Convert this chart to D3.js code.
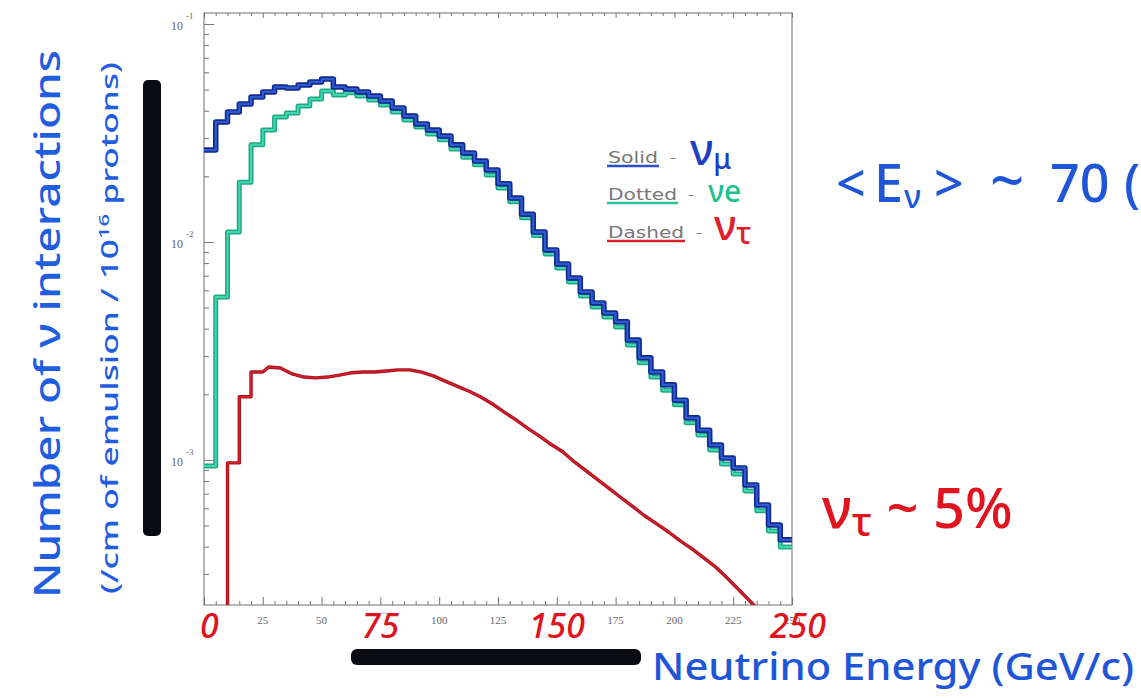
<!DOCTYPE html>
<html>
<head>
<meta charset="utf-8">
<script src="https://cdn.jsdelivr.net/npm/d3@7"></script>
<style>
  body { margin: 0; background: #fff; }
  svg { display: block; }
  .tick-label { font-family: "Liberation Serif", serif; font-size: 11px; fill: #666; }
  .hand { font-family: "Noto Sans", sans-serif; font-weight: 500; }
  .legend-word { font-family: "DejaVu Sans", sans-serif; font-size: 15px; fill: #777; }
</style>
</head>
<body>
<div id="wrapper"></div>
<script>
// histogram bins (lower edge, GeV), 5 GeV wide
const energyBins = [0, 5, 10, 15, 20, 25, 30, 35, 40, 45, 50, 55, 60, 65, 70, 75, 80, 85, 90, 95,
  100, 105, 110, 115, 120, 125, 130, 135, 140, 145, 150, 155, 160, 165, 170, 175, 180, 185, 190, 195,
  200, 205, 210, 215, 220, 225, 230, 235, 240, 245];
const binWidth = 5;
const energyMax = 250;

// interactions / cm of emulsion / 1e16 protons
const numuRate = [0.0264, 0.0355, 0.0395, 0.0430, 0.0462, 0.0488, 0.0514, 0.0509, 0.0525, 0.0542,
  0.0559, 0.0514, 0.0503, 0.0488, 0.0467, 0.0443, 0.0412, 0.0378, 0.0348, 0.0326,
  0.0306, 0.0279, 0.0256, 0.0235, 0.0214, 0.0185, 0.0159, 0.0134, 0.0111, 0.00919,
  0.00793, 0.00684, 0.00590, 0.00525, 0.00472, 0.00430, 0.00355, 0.00294, 0.00253, 0.00221,
  0.00188, 0.00156, 0.00137, 0.00117, 0.00102, 0.000919, 0.000768, 0.000622, 0.000503, 0.000430];

const nueRate = [0.000939, 0.00559, 0.0111, 0.0188, 0.0279, 0.0326, 0.0374, 0.0391, 0.0421, 0.0453,
  0.0493, 0.0472, 0.0483, 0.0467, 0.0448, 0.0425, 0.0395, 0.0363, 0.0337, 0.0313,
  0.0294, 0.0267, 0.0245, 0.0226, 0.0203, 0.0177, 0.0153, 0.0129, 0.0107, 0.00881,
  0.00760, 0.00655, 0.00565, 0.00503, 0.00453, 0.00407, 0.00337, 0.00279, 0.00240, 0.00209,
  0.00179, 0.00148, 0.00130, 0.00111, 0.000959, 0.000863, 0.000721, 0.000584, 0.000472, 0.000399];

const nutauRate = [null, null, 0.000969, 0.00195, 0.00253, 0.00267, 0.00264, 0.00248, 0.00240, 0.00238,
  0.00240, 0.00245, 0.00251, 0.00253, 0.00253, 0.00256, 0.00259, 0.00259, 0.00253, 0.00243,
  0.00230, 0.00218, 0.00207, 0.00195, 0.00181, 0.00166, 0.00153, 0.00140, 0.00129, 0.00118,
  0.00109, 0.000979, 0.000890, 0.000810, 0.000736, 0.000669, 0.000609, 0.000553, 0.000509, 0.000467,
  0.000425, 0.000391, 0.000355, 0.000323, 0.000287, 0.000253, 0.000223, 0.000195, 0.000170, 0.000149];

const yDomain = [2.16e-4, 0.1123];
const yDecades = [-1, -2, -3];
const xMajorTicks = [0, 25, 50, 75, 100, 125, 150, 175, 200, 225, 250];
const xPrintedLabels = [25, 50, 100, 125, 175, 200, 225, 250];
const xHandLabels = ["0", "75", "150", "250"];
const xHandValues = [0, 75, 150, 250];

const width = 1141;
const height = 698;
let dimensions = {
  margin: { top: 13, left: 204 },
  boundedWidth: 588,
  boundedHeight: 592,
};

const svg = d3.select("#wrapper")
  .append("svg")
  .attr("width", width)
  .attr("height", height);

const bounds = svg.append("g")
  .attr("transform", `translate(${dimensions.margin.left},${dimensions.margin.top})`);

const xScale = d3.scaleLinear()
  .domain([0, energyMax])
  .range([0, dimensions.boundedWidth]);

const yScale = d3.scaleLog()
  .domain(yDomain)
  .range([dimensions.boundedHeight, 0]);

// frame
bounds.append("rect")
  .attr("width", dimensions.boundedWidth)
  .attr("height", dimensions.boundedHeight)
  .attr("fill", "none")
  .attr("stroke", "#888")
  .attr("stroke-width", 1.2);

// y axis ticks (inward)
const minorY = [];
[-4, -3, -2].forEach(e => {
  for (let m = 2; m <= 9; m++) {
    const v = m * Math.pow(10, e);
    if (v >= yDomain[0] && v <= yDomain[1]) minorY.push(v);
  }
});
const majorY = yDecades.map(e => Math.pow(10, e));

function tickStyle(g) {
  g.select(".domain").remove();
  g.selectAll(".tick line").attr("stroke", "#777").attr("stroke-width", 1);
  g.selectAll(".tick text").remove();
}

bounds.append("g")
  .call(d3.axisRight(yScale).tickValues(majorY).tickSize(10))
  .call(tickStyle);
bounds.append("g")
  .call(d3.axisRight(yScale).tickValues(minorY).tickSize(5))
  .call(tickStyle);

const yLabels = bounds.append("g");
yDecades.forEach(e => {
  const t = yLabels.append("text")
    .attr("class", "tick-label")
    .attr("x", -33)
    .attr("y", yScale(Math.pow(10, e)) + 6)
    .style("font-size", "12px");
  t.append("tspan").text("10");
  t.append("tspan").attr("dy", -11).attr("dx", 3).style("font-size", "9px").text(String(e));
});

// x axis ticks, bottom (inward) and top
const minorX = energyBins.filter(d => d % 25 !== 0);
bounds.append("g")
  .attr("transform", `translate(0,${dimensions.boundedHeight})`)
  .call(d3.axisTop(xScale).tickValues(xMajorTicks).tickSize(8))
  .call(tickStyle);
bounds.append("g")
  .attr("transform", `translate(0,${dimensions.boundedHeight})`)
  .call(d3.axisTop(xScale).tickValues(minorX).tickSize(4))
  .call(tickStyle);
bounds.append("g")
  .call(d3.axisBottom(xScale).tickValues(xMajorTicks).tickSize(5))
  .call(tickStyle);
bounds.append("g")
  .call(d3.axisBottom(xScale).tickValues(minorX).tickSize(3))
  .call(tickStyle);

bounds.append("g").selectAll("text")
  .data(xPrintedLabels)
  .join("text")
  .attr("class", "tick-label")
  .attr("x", d => xScale(d))
  .attr("y", dimensions.boundedHeight + 19)
  .attr("text-anchor", "middle")
  .text(d => d);

// histograms
bounds.append("clipPath")
  .attr("id", "plot-clip")
  .append("rect")
  .attr("width", dimensions.boundedWidth)
  .attr("height", dimensions.boundedHeight);

const plot = bounds.append("g").attr("clip-path", "url(#plot-clip)");

const histLine = d3.line()
  .x(d => xScale(d[0]))
  .y(d => yScale(d[1]))
  .curve(d3.curveLinear);

// bins below smoothFrom are drawn as steps, the rest through bin centres
function histPoints(values, smoothFrom) {
  const pts = [];
  let first = true;
  values.forEach((v, i) => {
    if (v == null) return;
    const e = energyBins[i];
    if (first) {
      if (i > 0) pts.push([e, yDomain[0] / 2]);
      first = false;
    }
    if (e < smoothFrom) {
      pts.push([e, v], [e + binWidth, v]);
    } else {
      pts.push([e + binWidth / 2, v]);
    }
  });
  const last = values[values.length - 1];
  pts.push([energyMax, last]);
  return pts;
}

const series = [
  { values: nutauRate, smoothFrom: 25, outer: "#a8101c", inner: "#d8202e", w: 3.4 },
  { values: nueRate, smoothFrom: Infinity, outer: "#1ea884", inner: "#3fd6b0", w: 5 },
  { values: numuRate, smoothFrom: Infinity, outer: "#13288f", inner: "#2c5bd0", w: 5.5 },
];

series.forEach(s => {
  const d = histLine(histPoints(s.values, s.smoothFrom));
  plot.append("path")
    .attr("d", d)
    .attr("fill", "none")
    .attr("stroke", s.outer)
    .attr("stroke-width", s.w)
    .attr("stroke-linejoin", "round");
  plot.append("path")
    .attr("d", d)
    .attr("fill", "none")
    .attr("stroke", s.inner)
    .attr("stroke-width", s.w * 0.4)
    .attr("stroke-linejoin", "round");
});

// legend inside the plot
const legend = [
  { word: "Solid", color: "#2a4fc8", y: 163, len: 50, dashX: 670, nu: "ν", sub: "μ", nuX: 690, nuSize: 44, subSize: 28, nuColor: "#1f3fc8" },
  { word: "Dotted", color: "#2cc49a", y: 200, len: 69, dashX: 688, nu: "ν", sub: "e", nuX: 708, nuSize: 30, subSize: 30, nuColor: "#22c090" },
  { word: "Dashed", color: "#d81e2a", y: 238, len: 76, dashX: 696, nu: "ν", sub: "τ", nuX: 714, nuSize: 42, subSize: 30, nuColor: "#e0202c" },
];
legend.forEach(l => {
  svg.append("text")
    .attr("class", "legend-word")
    .attr("x", 608)
    .attr("y", l.y)
    .attr("textLength", l.len)
    .attr("lengthAdjust", "spacingAndGlyphs")
    .text(l.word);
  svg.append("line")
    .attr("x1", 607).attr("x2", 608 + l.len + 1)
    .attr("y1", l.y + 3).attr("y2", l.y + 3)
    .attr("stroke", l.color)
    .attr("stroke-width", 2.5);
  svg.append("text")
    .attr("class", "legend-word")
    .attr("x", l.dashX)
    .attr("y", l.y - 1)
    .style("font-size", "12px")
    .text("–");
  const t = svg.append("text")
    .attr("class", "hand")
    .attr("x", l.nuX)
    .attr("y", l.y + 2)
    .attr("fill", l.nuColor)
    .style("font-size", l.nuSize + "px");
  t.append("tspan").text(l.nu);
  t.append("tspan").attr("dy", l.sub === "e" ? 0 : 4).style("font-size", l.subSize + "px").text(l.sub);
});

// hand-written annotations
const yTitle1 = svg.append("text")
  .attr("class", "hand")
  .attr("transform", "translate(60,598) rotate(-90)")
  .attr("fill", "#1f5ee0")
  .attr("textLength", 548)
  .attr("lengthAdjust", "spacingAndGlyphs")
  .style("font-size", "36px");
yTitle1.text("Number of ν interactions");

const yTitle2 = svg.append("text")
  .attr("class", "hand")
  .attr("transform", "translate(118,594) rotate(-90)")
  .attr("fill", "#1f5ee0")
  .attr("textLength", 532)
  .attr("lengthAdjust", "spacingAndGlyphs")
  .style("font-size", "24px");
yTitle2.append("tspan").text("(/cm of emulsion / 10");
yTitle2.append("tspan").attr("dy", -9).style("font-size", "15px").text("16");
yTitle2.append("tspan").attr("dy", 9).text(" protons)");

// marker bars
svg.append("rect")
  .attr("x", 143).attr("y", 80)
  .attr("width", 18).attr("height", 456)
  .attr("rx", 5)
  .attr("fill", "#0b0b12");
svg.append("rect")
  .attr("x", 351).attr("y", 649)
  .attr("width", 290).attr("height", 16)
  .attr("rx", 6)
  .attr("fill", "#0b0b12");

// red hand-written axis numbers
svg.append("g").selectAll("text")
  .data(xHandValues)
  .join("text")
  .attr("class", "hand")
  .attr("x", d => dimensions.margin.left + xScale(d))
  .attr("y", dimensions.margin.top + dimensions.boundedHeight + 33)
  .attr("text-anchor", (d, i) => i === 0 ? "start" : "middle")
  .attr("dx", (d, i) => i === 0 ? -4 : (i === 3 ? 6 : 0))
  .attr("fill", "#e0141e")
  .style("font-size", "34px")
  .style("font-style", "italic")
  .text((d, i) => xHandLabels[i]);

// <E_nu> ~ 70 (GeV), pieces placed as written
const meanParts = [
  { t: "<", x: 836, size: 52, dy: 0 },
  { t: "E", x: 874, size: 52, dy: 0 },
  { t: "ν", x: 904, size: 32, dy: 6 },
  { t: ">", x: 934, size: 52, dy: 0 },
  { t: "~", x: 990, size: 60, dy: 0 },
  { t: "70", x: 1050, size: 52, dy: 0 },
  { t: "(GeV)", x: 1124, size: 52, dy: 0 },
];
svg.append("g").selectAll("text")
  .data(meanParts)
  .join("text")
  .attr("class", "hand")
  .attr("x", d => d.x)
  .attr("y", d => 202 + d.dy)
  .attr("fill", "#1f56d8")
  .style("font-size", d => d.size + "px")
  .text(d => d.t);

const tau = svg.append("text")
  .attr("class", "hand")
  .attr("x", 822)
  .attr("y", 528)
  .attr("fill", "#e0141e")
  .style("font-size", "56px");
tau.append("tspan").text("ν");
tau.append("tspan").attr("dy", 8).style("font-size", "40px").text("τ");
tau.append("tspan").attr("dy", -8).text(" ~ 5%");

svg.append("text")
  .attr("class", "hand")
  .attr("x", 652)
  .attr("y", 680)
  .attr("fill", "#1f56d8")
  .attr("textLength", 482)
  .attr("lengthAdjust", "spacingAndGlyphs")
  .style("font-size", "38px")
  .text("Neutrino Energy (GeV/c)");
</script>
</body>
</html>
